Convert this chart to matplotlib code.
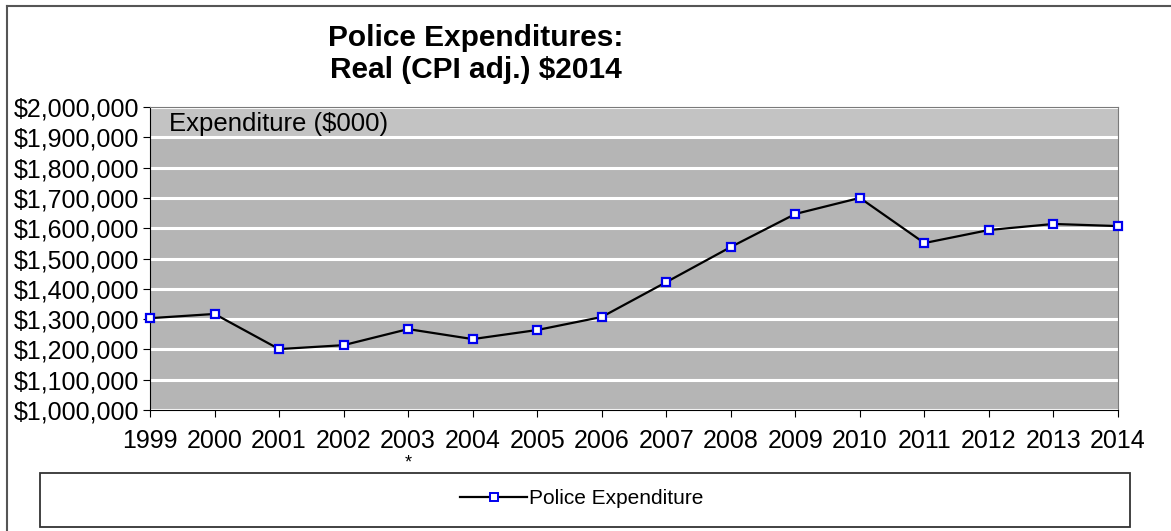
import matplotlib
matplotlib.use('Agg')
import matplotlib.pyplot as plt
from matplotlib.ticker import FuncFormatter, MultipleLocator
from matplotlib.lines import Line2D
from matplotlib.patches import Rectangle

plt.rcParams['font.family'] = ['Liberation Sans', 'DejaVu Sans']

# data ($000, CPI adjusted to 2014)
years = [1999, 2000, 2001, 2002, 2003, 2004, 2005, 2006,
         2007, 2008, 2009, 2010, 2011, 2012, 2013, 2014]
expenditure = [1303000, 1317000, 1201000, 1214000, 1267000, 1234000, 1264000, 1307000,
               1422000, 1538000, 1647000, 1700000, 1551000, 1594000, 1614000, 1607000]
series_name = 'Police Expenditure'
title = 'Police Expenditures:\nReal (CPI adj.) $2014'
y_label = 'Expenditure ($000)'
note_year = 2003

W, H = 1171, 531
fig = plt.figure(figsize=(W / 100, H / 100), dpi=100)
ax = fig.add_axes([150 / W, 1 - 410 / H, 968 / W, 303 / H])

ax.set_facecolor('#b5b5b5')
ax.axhspan(1900000, 2000000, color='#c3c3c3', zorder=0)
ax.set_ylim(1000000, 2000000)
ax.set_xlim(years[0], years[-1])
ax.yaxis.set_major_locator(MultipleLocator(100000))
ax.xaxis.set_major_locator(MultipleLocator(1))
ax.yaxis.set_major_formatter(FuncFormatter(lambda v, p: '${:,.0f}'.format(v)))
ax.grid(axis='y', color='white', lw=2.2, zorder=1)
ax.set_axisbelow(True)

ax.plot(years, expenditure, color='black', lw=1.6, marker='s', ms=6,
        mfc='white', mec='#0000ee', mew=1.6, zorder=3, clip_on=False,
        label=series_name)

ax.tick_params(axis='both', labelsize=18, length=5, color='black', direction='out')
ax.tick_params(axis='y', pad=3)
ax.tick_params(axis='x', pad=9)
for s in ['top', 'right']:
    ax.spines[s].set_color('#7a7a7a')
for s in ['left', 'bottom']:
    ax.spines[s].set_color('black')

ax.text(0.02, 0.985, y_label, transform=ax.transAxes, fontsize=18.5,
        ha='left', va='top')

# asterisk note under 2003
ax.text(note_year, -0.175, '*', transform=ax.get_xaxis_transform(),
        ha='center', va='center', fontsize=13)

fig.text(476 / W, 1 - 54 / H, title, ha='center', va='center',
         fontsize=21.5, fontweight='bold', linespacing=1.15)

# legend box
fig.patches.append(Rectangle((40 / W, 1 - 527 / H), 1090 / W, 54 / H,
                             transform=fig.transFigure, fill=False,
                             ec='#333333', lw=1.3))
handle = Line2D([], [], color='black', lw=1.6, marker='s', ms=6,
                mfc='white', mec='#0000ee', mew=1.4)
fig.legend([handle], [series_name], loc='center',
           bbox_to_anchor=(582 / W, 1 - 499 / H), frameon=False,
           fontsize=15, handlelength=3.2, handletextpad=0.1)

# outer border
fig.lines.append(Line2D([7 / W, 7 / W], [0, 1 - 6 / H], transform=fig.transFigure,
                        color='#555555', lw=1.5))
fig.lines.append(Line2D([7 / W, 1], [1 - 6 / H, 1 - 6 / H], transform=fig.transFigure,
                        color='#555555', lw=1.5))

fig.savefig('out.png', dpi=100)
